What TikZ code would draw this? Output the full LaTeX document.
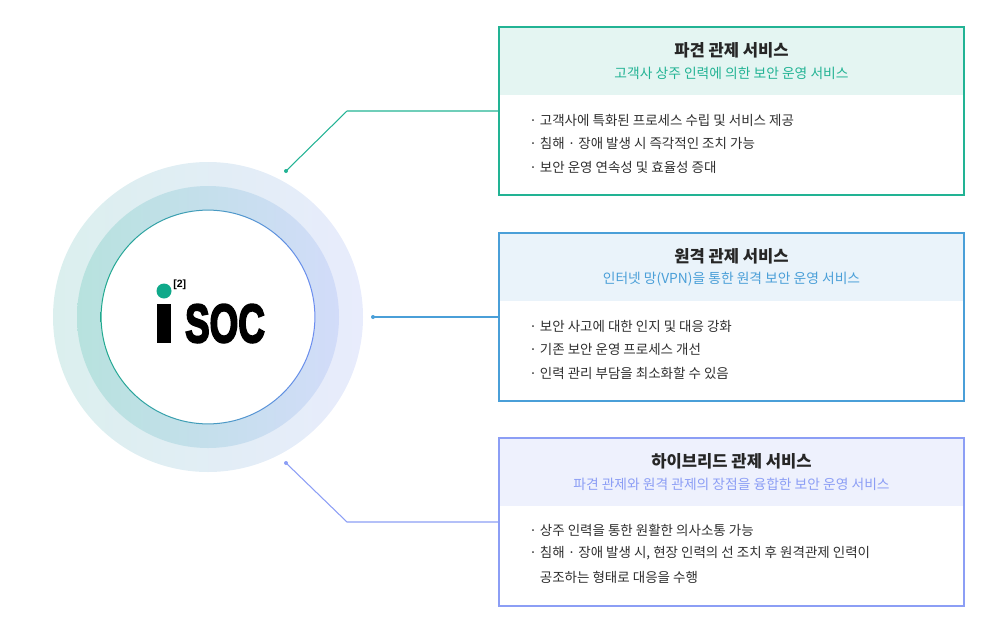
\documentclass[tikz,border=0pt]{standalone}
\usepackage{fontspec}
\usepackage{graphicx}
\setmainfont{Noto Sans CJK KR}
\newfontfamily\logofont{Liberation Sans}
\newfontfamily\logoheavy[FakeBold=4]{Liberation Sans Bold}
\usepackage{tikz}

\definecolor{dispatch}{HTML}{22B394}
\definecolor{dispatchbg}{HTML}{E4F5F2}
\definecolor{remote}{HTML}{4A9FD8}
\definecolor{remotebg}{HTML}{EAF3FA}
\definecolor{hybrid}{HTML}{8C9EF5}
\definecolor{hybridbg}{HTML}{EEF1FD}
\definecolor{ringoutL}{HTML}{DBEFEE}
\definecolor{ringoutR}{HTML}{E8ECFC}
\definecolor{ringmidL}{HTML}{B7E2DE}
\definecolor{ringmidR}{HTML}{D2DCF9}
\definecolor{edgeL}{HTML}{1FA98E}
\definecolor{edgeR}{HTML}{6C8CF0}
\definecolor{logogreen}{HTML}{0FA98A}

\begin{document}
\begin{tikzpicture}[x=0.025cm,y=-0.025cm,
  svcbox/.style={draw,line width=0.9pt,minimum width=11.625cm,minimum height=4.2cm,inner sep=0},
  svctitle/.style={font=\fontsize{11.8}{13}\selectfont\bfseries,text=black!85},
  svcsub/.style={font=\fontsize{9.8}{11}\selectfont},
  svcitem/.style={anchor=west,inner sep=0,font=\fontsize{9.6}{11}\selectfont,text=black!82},
  link/.style={line width=0.75pt}]
  \useasboundingbox (0,0) rectangle (1004,638);

  % rings
  \coordinate (core) at (208,317);
  \shade[left color=ringoutL,right color=ringoutR] (core) circle (155);
  \shade[left color=ringmidL,right color=ringmidR] (core) circle (131);
  \fill[white] (core) circle (107);
  \shade[left color=edgeL,right color=edgeR,even odd rule] (core) circle (107.4) circle (106.4);

  % logo
  \fill[logogreen] (164,291) circle (7.5);
  \node[anchor=west,inner sep=0,font=\logofont\bfseries\fontsize{7.5}{8}\selectfont] (ref) at (173,285) {[2]};
  \fill[black] (157,304) rectangle (171,343);
  \node[inner sep=0] (soc) at (225,323.5) {\scalebox{0.68}[1]{\logoheavy\fontsize{38.5}{40}\selectfont SOC}};

  % boxes
  \foreach \i/\top/\col/\ttl/\sub in {1/27/dispatch/파견 관제 서비스/고객사 상주 인력에 의한 보안 운영 서비스,
      2/233/remote/원격 관제 서비스/인터넷 망(VPN)을 통한 원격 보안 운영 서비스,
      3/438/hybrid/하이브리드 관제 서비스/파견 관제와 원격 관제의 장점을 융합한 보안 운영 서비스} {
    \fill[\col bg] (499,\top) rectangle (964,\top+68);
    \node[svcbox,draw=\col] (box\i) at (731.5,\top+84) {};
    \node[svctitle] (title\i) at (731.5,\top+23) {\ttl};
    \node[svcsub,text=\col] (sub\i) at (731.5,\top+46) {\sub};
  }

  % bullet lines
  \foreach \t [count=\k] in {· 고객사에 특화된 프로세스 수립 및 서비스 제공,
      · 침해 · 장애 발생 시 즉각적인 조치 가능,
      · 보안 운영 연속성 및 효율성 증대}
    \node[svcitem] (a\k) at (529,27+93+23.5*\k-23.5) {\t};
  \foreach \t [count=\k] in {· 보안 사고에 대한 인지 및 대응 강화,
      · 기존 보안 운영 프로세스 개선,
      · 인력 관리 부담을 최소화할 수 있음}
    \node[svcitem] (b\k) at (529,233+93+23.5*\k-23.5) {\t};
  \foreach \t [count=\k] in {· 상주 인력을 통한 원활한 의사소통 가능,
      {· 침해 · 장애 발생 시, 현장 인력의 선 조치 후 원격관제 인력이},
      \phantom{· }공조하는 형태로 대응을 수행}
    \node[svcitem] (c\k) at (529,438+92+23.5*\k-23.5) {\t};

  % connectors
  \coordinate (p1) at (286,171);
  \coordinate (p2) at (373,317);
  \coordinate (p3) at (286,463);
  \draw[link,dispatch] (p1) -- (347,111) -- (box1.west);
  \draw[link,remote] (p2) -- (box2.west);
  \draw[link,hybrid] (p3) -- (347,522) -- (box3.west);
  \fill[dispatch] (p1) circle (2);
  \fill[remote] (p2) circle (2);
  \fill[hybrid] (p3) circle (2);
\end{tikzpicture}
\end{document}
